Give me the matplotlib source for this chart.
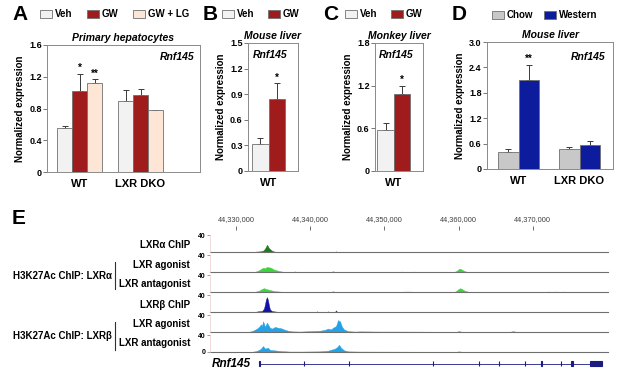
import matplotlib

matplotlib.use("Agg")
import matplotlib.pyplot as plt
import numpy as np
from matplotlib.patches import Rectangle

plt.rcParams["font.family"] = ["Liberation Sans", "DejaVu Sans"]
plt.rcParams["font.weight"] = "bold"
plt.rcParams["axes.labelweight"] = "bold"
plt.rcParams["axes.titleweight"] = "bold"

W, H = 617, 377

# ---- panel A: primary hepatocytes ----
A_GROUPS = ["WT", "LXR DKO"]
A_VEH = [0.55, 0.90]
A_VEH_ERR = [0.03, 0.13]
A_GW = [1.02, 0.97]
A_GW_ERR = [0.22, 0.08]
A_GWLG = [1.12, 0.78]
A_GWLG_ERR = [0.05, 0.0]

# ---- panel B: mouse liver ----
B_GROUPS = ["WT"]
B_VEH = [0.32]
B_VEH_ERR = [0.07]
B_GW = [0.845]
B_GW_ERR = [0.185]

# ---- panel C: monkey liver ----
C_GROUPS = ["WT"]
C_VEH = [0.575]
C_VEH_ERR = [0.095]
C_GW = [1.085]
C_GW_ERR = [0.115]

# ---- panel D: mouse liver, diet ----
D_GROUPS = ["WT", "LXR DKO"]
D_CHOW = [0.41, 0.47]
D_CHOW_ERR = [0.07, 0.05]
D_WESTERN = [2.11, 0.57]
D_WESTERN_ERR = [0.35, 0.10]

# ---- panel E: genome browser tracks (kb past 44,330,000) ----
CHR_START = 44_330_000
RULER_KB = [0, 10, 20, 30, 40]

LXRA_CHIP_KB = [2.43, 2.70, 3.23, 3.64, 3.91, 4.18, 4.45, 4.85, 5.26, 5.53,
                13.34, 13.48, 13.61]
LXRA_CHIP_SIG = [0, 1, 1.5, 3, 8, 17, 9, 3, 0.5, 0,
                 0, 1.5, 0]

LXRA_AGO_KB = [2.43, 2.56, 2.96, 3.37, 3.64, 3.91, 4.18, 4.45, 4.72, 4.99, 5.26, 5.66, 6.20, 6.60,
               7.68, 7.95, 8.22, 12.80, 13.07, 13.34, 21.83, 22.37, 22.91, 23.45, 23.99, 24.53,
               29.38, 29.65, 29.92, 30.05, 30.32, 30.59, 31.00, 31.40,
               35.18, 35.31, 35.44, 48.52, 48.65, 48.79]
LXRA_AGO_SIG = [0, 0.5, 3, 7, 10, 9, 12, 11, 10, 7, 5, 3, 1, 0,
                0, 1.5, 0, 0, 2, 0, 0, 1, 0, 0, 1, 0,
                0, 2, 5, 8, 7, 4, 1, 0,
                0, 1, 0, 0, 1, 0]

LXRA_ANT_KB = [2.43, 2.56, 3.10, 3.50, 3.77, 4.04, 4.31, 4.72, 5.26, 5.93, 6.60,
               12.80, 13.07, 13.34, 22.10, 22.78, 23.45, 24.12,
               29.38, 29.65, 29.92, 30.19, 30.46, 30.73, 31.00, 31.54,
               41.64, 42.05, 42.59, 43.13, 43.67, 44.20, 44.61]
LXRA_ANT_SIG = [0, 0.5, 3, 7, 9, 7, 6, 4, 2, 1, 0,
                0, 2, 0, 0, 1, 1, 0,
                0, 2, 6, 9, 7, 4, 2, 0,
                0, 1, 0.5, 1, 0.5, 1, 0]

LXRB_CHIP_KB = [2.43, 2.96, 3.50, 3.77, 3.91, 4.04, 4.18, 4.31, 4.45, 4.58, 4.85, 5.39, 5.80,
                10.78, 10.92, 11.05, 12.26, 12.40, 12.53, 13.34, 13.48, 13.61]
LXRB_CHIP_SIG = [0, 1.5, 2, 8, 18, 30, 35, 28, 15, 6, 2, 1, 0,
                 0, 1.5, 0, 0, 1.5, 0, 0, 4, 0]

LXRB_AGO_KB = [1.62, 1.89, 2.29, 2.83, 3.10, 3.37, 3.50, 3.64, 3.77, 3.91, 4.18, 4.31, 4.58,
               4.85, 5.26, 5.66, 6.06, 6.47, 7.01, 7.55, 8.63, 9.97, 10.65, 11.32, 11.99,
               12.40, 12.80, 13.07, 13.48, 13.75, 14.02, 14.29, 14.56, 15.09, 16.04, 16.71,
               19.41, 22.10, 29.65, 30.05, 30.46, 36.93, 37.33, 37.74, 46.36, 49.06]
LXRB_AGO_SIG = [0, 1, 3, 8, 12, 18, 14, 25, 20, 12, 22, 18, 10,
                8, 12, 10, 9, 6, 3, 1.5, 1, 2, 2.5, 3, 5,
                8, 6, 10, 14, 28, 25, 12, 6, 2, 1, 1.5,
                1, 1, 0.5, 2, 0.5, 0.5, 2, 0.5, 0.5, 0.3]

LXRB_ANT_KB = [1.62, 2.16, 2.70, 3.10, 3.37, 3.64, 3.91, 4.31, 4.58, 5.12, 5.66, 6.20, 7.28,
               8.63, 11.32, 12.40, 12.94, 13.21, 13.61, 13.88, 14.15, 14.56, 15.09, 16.71,
               29.65, 30.05, 30.46, 42.32, 49.06]
LXRB_ANT_SIG = [0, 0.5, 2, 5, 8, 14, 8, 10, 5, 4, 3, 2, 1,
                1, 1.5, 3, 6, 7, 11, 17, 10, 4, 1.5, 1,
                0.5, 1.5, 0.5, 0.5, 0.3]

GENE_SPAN_KB = [3.23, 49.33]
EXON_START_KB = [3.17, 9.10, 15.17, 26.49, 32.69, 35.38, 38.89, 41.05, 43.74, 45.08, 47.71]
EXON_END_KB = [3.29, 9.22, 15.29, 26.61, 32.81, 35.50, 39.01, 41.17, 43.86, 45.48, 49.33]

COLORS = {
    "veh": "#f2f2f2",
    "gw": "#a01b1b",
    "gwlg": "#fde6d6",
    "chow": "#c8c8c8",
    "western": "#0c1c9c",
    "lxra_chip": "#1d7a1d",
    "lxra_ac": "#3fd23f",
    "lxrb_chip": "#1212a8",
    "lxrb_ac": "#24a2e6",
    "gene": "#1b1b80",
}
EDGE = "#707070"

fig = plt.figure(figsize=(W / 100, H / 100), dpi=100)


def px_axes(left, top, right, bottom):
    return fig.add_axes([left / W, 1 - bottom / H, (right - left) / W, (bottom - top) / H])


def fig_text(x, y, s, **kw):
    fig.text(x / W, 1 - y / H, s, **kw)


def legend_entry(x, y, color, label):
    fig.add_artist(Rectangle((x / W, 1 - (y + 4) / H), 12 / W, 8 / H, transform=fig.transFigure,
                             facecolor=color, edgecolor=EDGE, linewidth=0.6))
    fig_text(x + 15, y, label, fontsize=7, va="center", ha="left")


def bar_panel(ax, groups, series, errs, colors, gap, xlim, ylim, yticks, title, stars):
    centers = np.arange(len(groups)) * gap
    offsets = np.arange(len(series)) - (len(series) - 1) / 2
    tops = {}
    for i, (vals, err, color, off) in enumerate(zip(series, errs, colors, offsets)):
        x = centers + off
        vals = np.asarray(vals, float)
        err = np.asarray(err, float)
        ax.bar(x, vals, width=1.0, color=color, edgecolor=EDGE, linewidth=0.6, zorder=2)
        up = np.where(err > 0, err, np.nan)
        ax.errorbar(x, vals, yerr=[np.zeros_like(up), up], fmt="none", ecolor="#3a3a3a",
                    elinewidth=0.7, capsize=2.3, capthick=0.7, zorder=1)
        for g in range(len(groups)):
            tops[(g, i)] = (x[g], vals[g] + err[g])
    for (g, i), s in stars.items():
        x, y = tops[(g, i)]
        ax.annotate(s, (x, y), xytext=(0, 0.5), textcoords="offset points", ha="center",
                    va="bottom", fontsize=7)
    ax.set_xlim(*xlim)
    ax.set_ylim(*ylim)
    ax.set_yticks(yticks)
    ax.set_yticklabels([f"{t:.1f}" if t != 0 else "0" for t in yticks], fontsize=6.5)
    ax.set_xticks(centers)
    ax.set_xticklabels(groups, fontsize=8)
    ax.tick_params(axis="x", length=0, pad=5)
    ax.tick_params(axis="y", length=2.8, width=0.6, pad=1, color="#606060")
    ax.set_ylabel("Normalized expression", fontsize=7, labelpad=3)
    for sp in ax.spines.values():
        sp.set_color("#8a8a8a")
        sp.set_linewidth(0.7)
    ax.set_title(title, fontsize=7.5, style="italic", pad=3)


# ---- A ----
axA = px_axes(47, 45, 200, 172)
bar_panel(axA, A_GROUPS, [A_VEH, A_GW, A_GWLG], [A_VEH_ERR, A_GW_ERR, A_GWLG_ERR],
          [COLORS["veh"], COLORS["gw"], COLORS["gwlg"]], 4.07, (-2.17, 8.04), (0, 1.6),
          [0, 0.4, 0.8, 1.2, 1.6], "Primary hepatocytes", {(0, 1): "*", (0, 2): "**"})
axA.text(0.965, 0.905, "Rnf145", transform=axA.transAxes, ha="right", va="center",
         fontsize=7.5, style="italic")

# ---- B ----
axB = px_axes(248, 43, 298, 171)
bar_panel(axB, B_GROUPS, [B_VEH, B_GW], [B_VEH_ERR, B_GW_ERR],
          [COLORS["veh"], COLORS["gw"]], 1, (-1.23, 1.77), (0, 1.5),
          [0, 0.3, 0.6, 0.9, 1.2, 1.5], "Mouse liver", {(0, 1): "*"})
axB.text(0.44, 0.906, "Rnf145", transform=axB.transAxes, ha="center", va="center",
         fontsize=7.5, style="italic")

# ---- C ----
axC = px_axes(375, 43, 423, 171)
bar_panel(axC, C_GROUPS, [C_VEH, C_GW], [C_VEH_ERR, C_GW_ERR],
          [COLORS["veh"], COLORS["gw"]], 1, (-1.15, 1.8), (0, 1.8),
          [0, 0.6, 1.2, 1.8], "Monkey liver", {(0, 1): "*"})
axC.text(0.43, 0.906, "Rnf145", transform=axC.transAxes, ha="center", va="center",
         fontsize=7.5, style="italic")

# ---- D ----
axD = px_axes(487, 42, 613, 169)
bar_panel(axD, D_GROUPS, [D_CHOW, D_WESTERN], [D_CHOW_ERR, D_WESTERN_ERR],
          [COLORS["chow"], COLORS["western"]], 2.98, (-1.55, 4.62), (0, 3.0),
          [0, 0.6, 1.2, 1.8, 2.4, 3.0], "Mouse liver", {(0, 1): "**"})
axD.text(0.94, 0.88, "Rnf145", transform=axD.transAxes, ha="right", va="center",
         fontsize=7.5, style="italic")

# panel letters and legends
for x, y, s in [(12, 15, "A"), (203, 15, "B"), (323, 15, "C"), (452, 15, "D"), (12, 218, "E")]:
    fig_text(x, y, s, fontsize=15, va="center", ha="left")
legend_entry(40, 14, COLORS["veh"], "Veh")
legend_entry(87, 14, COLORS["gw"], "GW")
legend_entry(133, 14, COLORS["gwlg"], "GW + LG")
legend_entry(222, 14, COLORS["veh"], "Veh")
legend_entry(268, 14, COLORS["gw"], "GW")
legend_entry(345, 14, COLORS["veh"], "Veh")
legend_entry(391, 14, COLORS["gw"], "GW")
legend_entry(492, 15, COLORS["chow"], "Chow")
legend_entry(544, 15, COLORS["western"], "Western")

# ---- E: browser tracks ----
XLIM_KB = (-3.5, 50.13)
TRACK_LEFT, TRACK_RIGHT = 210, 608

ruler = px_axes(TRACK_LEFT, 226, TRACK_RIGHT, 231)
ruler.set_xlim(*XLIM_KB)
ruler.set_ylim(0, 1)
ruler.set_yticks([])
ruler.xaxis.tick_top()
ruler.set_xticks(RULER_KB)
ruler.set_xticklabels([f"{CHR_START + k * 1000:,}" for k in RULER_KB], fontsize=5.3,
                      fontweight="normal", color="#404040")
ruler.tick_params(axis="x", direction="in", length=3.2, width=0.6, pad=2, color="#555555")
for sp in ruler.spines.values():
    sp.set_visible(False)

tracks = [
    (LXRA_CHIP_KB, LXRA_CHIP_SIG, COLORS["lxra_chip"], "LXRα ChIP"),
    (LXRA_AGO_KB, LXRA_AGO_SIG, COLORS["lxra_ac"], "LXR agonist"),
    (LXRA_ANT_KB, LXRA_ANT_SIG, COLORS["lxra_ac"], "LXR antagonist"),
    (LXRB_CHIP_KB, LXRB_CHIP_SIG, COLORS["lxrb_chip"], "LXRβ ChIP"),
    (LXRB_AGO_KB, LXRB_AGO_SIG, COLORS["lxrb_ac"], "LXR agonist"),
    (LXRB_ANT_KB, LXRB_ANT_SIG, COLORS["lxrb_ac"], "LXR antagonist"),
]
baselines = [252, 272, 292, 312, 332, 352]
label_y = [245, 265, 284, 305, 324, 343]
for (kb, sig, color, label), base, ly in zip(tracks, baselines, label_y):
    ax = px_axes(TRACK_LEFT, base - 17, TRACK_RIGHT, base)
    ax.fill_between(kb, sig, 0, color=color, linewidth=0.3, edgecolor=color)
    ax.axhline(0, color="#6e6e6e", linewidth=0.8, clip_on=False)
    ax.set_xlim(*XLIM_KB)
    ax.set_ylim(0, 40)
    ax.set_xticks([])
    last = base == baselines[-1]
    ticks = [0, 40] if last else [40]
    ax.set_yticks(ticks)
    ax.set_yticklabels([str(t) for t in ticks], fontsize=5)
    ax.tick_params(axis="y", length=2, width=0.5, pad=1.5, color="#777777")
    for name, sp in ax.spines.items():
        sp.set_visible(name == "left")
    ax.spines["left"].set_color("#f0cccc")
    ax.spines["left"].set_linewidth(0.5)
    ax.patch.set_alpha(0)
    fig_text(190, ly, label, fontsize=7, ha="right", va="center")

fig_text(112, 276, "H3K27Ac ChIP: LXRα", fontsize=7, ha="right", va="center")
fig_text(112, 336, "H3K27Ac ChIP: LXRβ", fontsize=7, ha="right", va="center")
for y0, y1 in [(262, 289), (322, 350)]:
    fig.add_artist(plt.Line2D([114.5 / W, 114.5 / W], [1 - y0 / H, 1 - y1 / H],
                              color="#303030", linewidth=0.8))

gene = px_axes(TRACK_LEFT, 358, TRACK_RIGHT, 369)
gene.set_xlim(*XLIM_KB)
gene.set_ylim(0, 1)
gene.plot(GENE_SPAN_KB, [0.5, 0.5], color=COLORS["gene"], linewidth=0.6)
starts = np.array(EXON_START_KB)
ends = np.array(EXON_END_KB)
gene.bar(starts, 0.45, width=ends - starts, bottom=0.275, align="edge",
         color=COLORS["gene"], edgecolor=COLORS["gene"], linewidth=0.8)
gene.axis("off")
fig_text(212, 364, "Rnf145", fontsize=8.5, style="italic", ha="left", va="center")

fig.savefig("out.png", dpi=100)
